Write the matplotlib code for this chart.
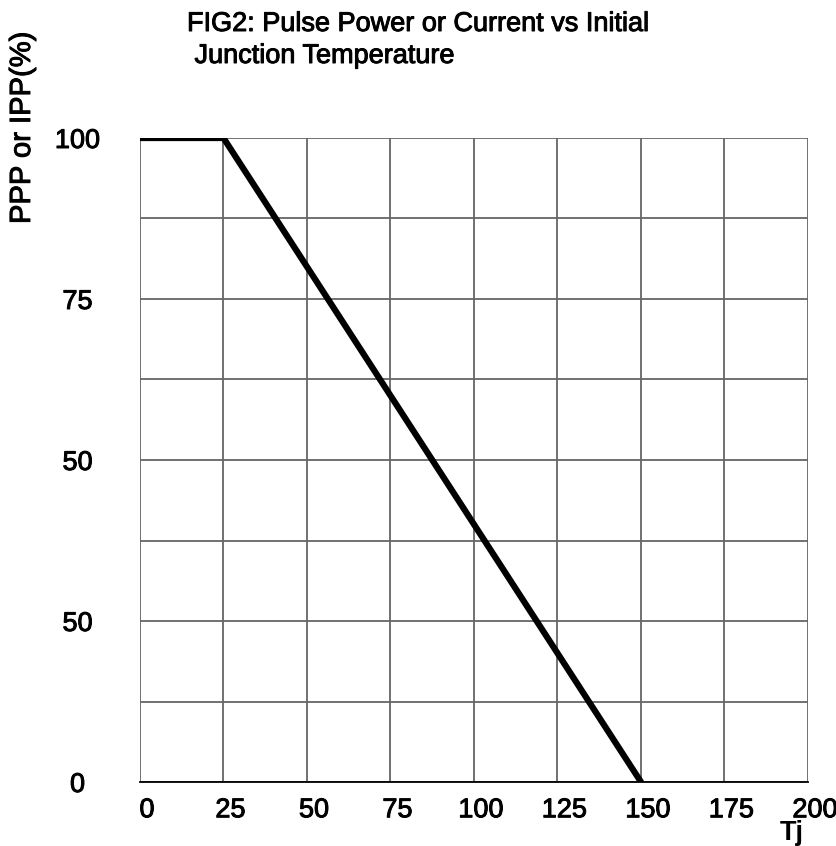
import matplotlib
matplotlib.use("Agg")
import matplotlib.pyplot as plt
import matplotlib.transforms as mtransforms
import matplotlib.patheffects as pe
import numpy as np

plt.rcParams['font.family'] = ['Liberation Sans', 'DejaVu Sans']

# Data
tj = [0, 25, 150]
ppp = [100, 100, 0]
x_ticks = [0, 25, 50, 75, 100, 125, 150, 175, 200]
x_labels = ["0", "25", "50", "75", "100", "125", "150", "175", "200"]
y_ticks = [0, 25, 50, 75, 100]
y_labels = ["0", "50", "50", "75", "100"]
y_grid = [0, 12.5, 25, 37.5, 50, 62.5, 75, 87.5, 100]

W, H = 837, 846
fig = plt.figure(figsize=(W / 100, H / 100), dpi=100)
ax = fig.add_axes([140 / W, 1 - 782 / H, (808 - 140) / W, (782 - 138) / H])
ax.set_xlim(0, 200)
ax.set_ylim(0, 100)

heavy = [pe.withStroke(linewidth=0.7, foreground='black')]

grid_color = '#666666'
for x in x_ticks:
    ax.axvline(x, color=grid_color, lw=1.3, zorder=1)
for y in y_grid:
    ax.axhline(y, color=grid_color, lw=1.3, zorder=1)

for s in ax.spines.values():
    s.set_visible(False)
ax.spines['bottom'].set_visible(True)
ax.spines['bottom'].set_color('black')
ax.spines['bottom'].set_linewidth(1.3)

ax.plot(tj, ppp, color='black', lw=4.5, solid_capstyle='round',
        solid_joinstyle='round', zorder=3)

ax.set_xticks(x_ticks)
ax.set_xticklabels(x_labels, fontsize=19.5)
ax.tick_params(axis='x', length=0, pad=11)
offset = mtransforms.ScaledTranslation(5 / 72, 0, fig.dpi_scale_trans)
for lbl in ax.get_xticklabels():
    lbl.set_transform(lbl.get_transform() + offset)
    lbl.set_path_effects(heavy)

ax.set_yticks(y_ticks)
ax.set_yticklabels(y_labels, fontsize=19.5, ha='center')
ax.tick_params(axis='y', length=0, pad=45)
for lbl in ax.get_yticklabels():
    lbl.set_path_effects(heavy)

ax.set_ylabel("PPP or IPP(%)", fontsize=21, path_effects=heavy)
ax.yaxis.set_label_coords(-(140 - 36) / (808 - 140), (782 - 128) / (782 - 138))

ax.text((792 - 140) / (808 - 140), -(833 - 782) / (782 - 138), "Tj",
        transform=ax.transAxes, ha='center', va='center', fontsize=19.5,
        fontweight='bold')

fig.text(187 / W, 1 - 11 / H, "FIG2: Pulse Power or Current vs Initial\n Junction Temperature",
         ha='left', va='top', fontsize=19.5, linespacing=1.3, path_effects=heavy)

fig.savefig("out.png", dpi=100)
